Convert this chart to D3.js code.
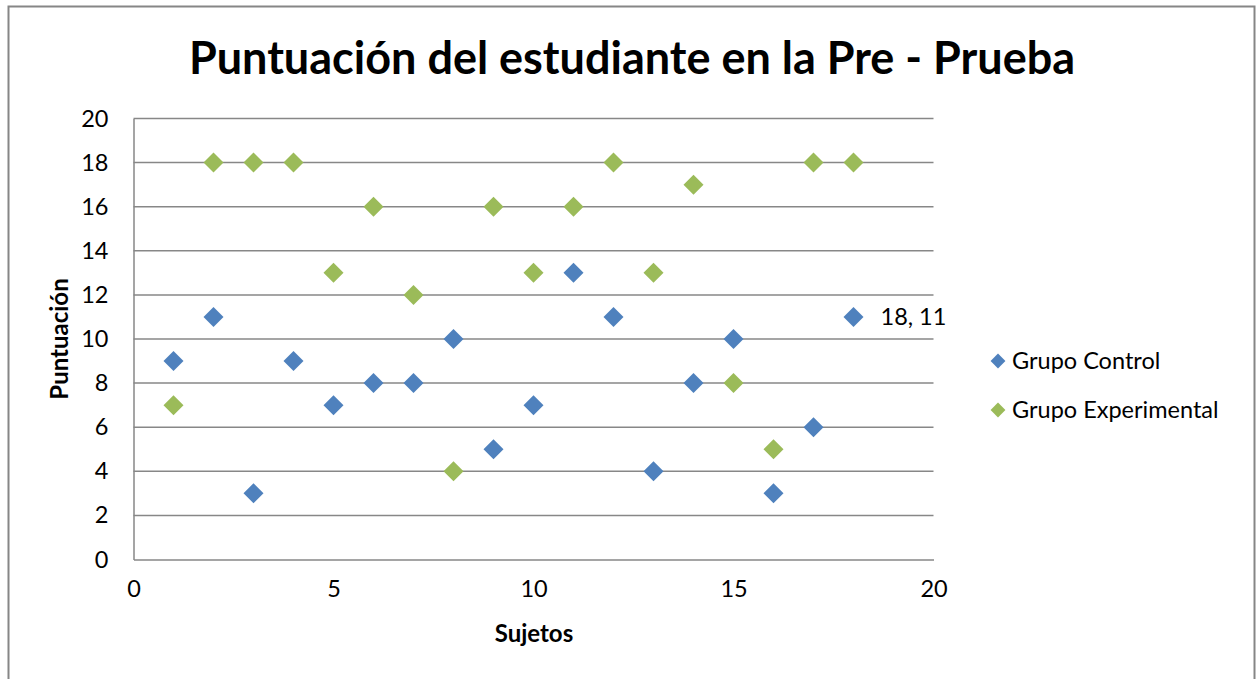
<!DOCTYPE html>
<html>
<head>
<meta charset="utf-8">
<script src="https://cdn.jsdelivr.net/npm/d3@7"></script>
<style>
  html, body { margin: 0; padding: 0; background: #fff; }
  svg { display: block; }
  text { font-family: Lato, "Open Sans", "Liberation Sans", sans-serif; fill: #000; }
</style>
</head>
<body>
<svg id="chart" width="1259" height="679"></svg>
<script>
// Subject numbers and scores per group
const sujetos = [1, 2, 3, 4, 5, 6, 7, 8, 9, 10, 11, 12, 13, 14, 15, 16, 17, 18];
const grupoControl = [9, 11, 3, 9, 7, 8, 8, 10, 5, 7, 13, 11, 4, 8, 10, 3, 6, 11];
const grupoExperimental = [7, 18, 18, 18, 13, 16, 12, 4, 16, 13, 16, 18, 13, 17, 8, 5, 18, 18];
const xTicks = [0, 5, 10, 15, 20];
const yTicks = [0, 2, 4, 6, 8, 10, 12, 14, 16, 18, 20];
const seriesNames = ["Grupo Control", "Grupo Experimental"];
const seriesColors = ["#4F81BD", "#9BBB59"];

const labelSize = 23.5;
const svg = d3.select("#chart");

// Outer chart frame
svg.append("rect")
  .attr("x", 8.5).attr("y", 6.5)
  .attr("width", 1246).attr("height", 700)
  .attr("fill", "none").attr("stroke", "#868686").attr("stroke-width", 2);

const x = d3.scaleLinear().domain([0, 20]).range([133.5, 933.5]);
const y = d3.scaleLinear().domain([0, 20]).range([559.5, 118.5]);

// Horizontal gridlines
svg.append("g")
  .selectAll("line")
  .data(yTicks.filter(t => t > 0))
  .join("line")
  .attr("x1", x(0)).attr("x2", x(20))
  .attr("y1", d => y(d)).attr("y2", d => y(d))
  .attr("stroke", "#878787").attr("stroke-width", 1.5);

// Y axis
const yAxis = svg.append("g")
  .attr("transform", `translate(${x(0)},0)`)
  .call(d3.axisLeft(y).tickValues(yTicks).tickSize(0).tickPadding(25));
yAxis.select(".domain").attr("stroke", "#878787").attr("stroke-width", 1.5);
yAxis.selectAll("text").attr("font-size", labelSize).style("font-family", "Lato, 'Open Sans', sans-serif");

// X axis
const xAxis = svg.append("g")
  .attr("transform", `translate(0,${y(0)})`)
  .call(d3.axisBottom(x).tickValues(xTicks).tickSize(0).tickPadding(21));
xAxis.select(".domain").attr("stroke", "#878787").attr("stroke-width", 1.5);
xAxis.selectAll("text").attr("font-size", labelSize).style("font-family", "Lato, 'Open Sans', sans-serif");

// Diamond marker: a square rotated 45 degrees
const diamond = s => d3.symbol().type(d3.symbolSquare).size(s)();

const series = [grupoControl, grupoExperimental];
series.forEach((vals, i) => {
  svg.append("g")
    .selectAll("path")
    .data(vals.map((v, j) => ({ x: sujetos[j], y: v })))
    .join("path")
    .attr("d", diamond(200))
    .attr("transform", d => `translate(${x(d.x)},${y(d.y)}) rotate(45)`)
    .attr("fill", seriesColors[i]);
});

// Data label on the last control point
const lastIdx = sujetos.length - 1;
svg.append("text")
  .attr("x", x(sujetos[lastIdx]) + 27)
  .attr("y", y(grupoControl[lastIdx]) + 8)
  .attr("font-size", labelSize)
  .text(`${sujetos[lastIdx]}, ${grupoControl[lastIdx]}`);

// Title
svg.append("text")
  .attr("x", 632).attr("y", 74)
  .attr("text-anchor", "middle")
  .attr("font-size", 45).attr("font-weight", "bold")
  .text("Puntuación del estudiante en la Pre - Prueba");

// Axis titles
svg.append("text")
  .attr("x", 534).attr("y", 642)
  .attr("text-anchor", "middle")
  .attr("font-size", 24).attr("font-weight", "bold")
  .text("Sujetos");

svg.append("text")
  .attr("transform", "translate(68,339) rotate(-90)")
  .attr("text-anchor", "middle")
  .attr("font-size", 24).attr("font-weight", "bold")
  .text("Puntuación");

// Legend
const legend = svg.append("g");
seriesNames.forEach((name, i) => {
  const ly = 361 + i * 49;
  legend.append("path")
    .attr("d", diamond(110))
    .attr("transform", `translate(998,${ly}) rotate(45)`)
    .attr("fill", seriesColors[i]);
  legend.append("text")
    .attr("x", 1012).attr("y", ly + 8)
    .attr("font-size", labelSize)
    .text(name);
});
</script>
</body>
</html>
